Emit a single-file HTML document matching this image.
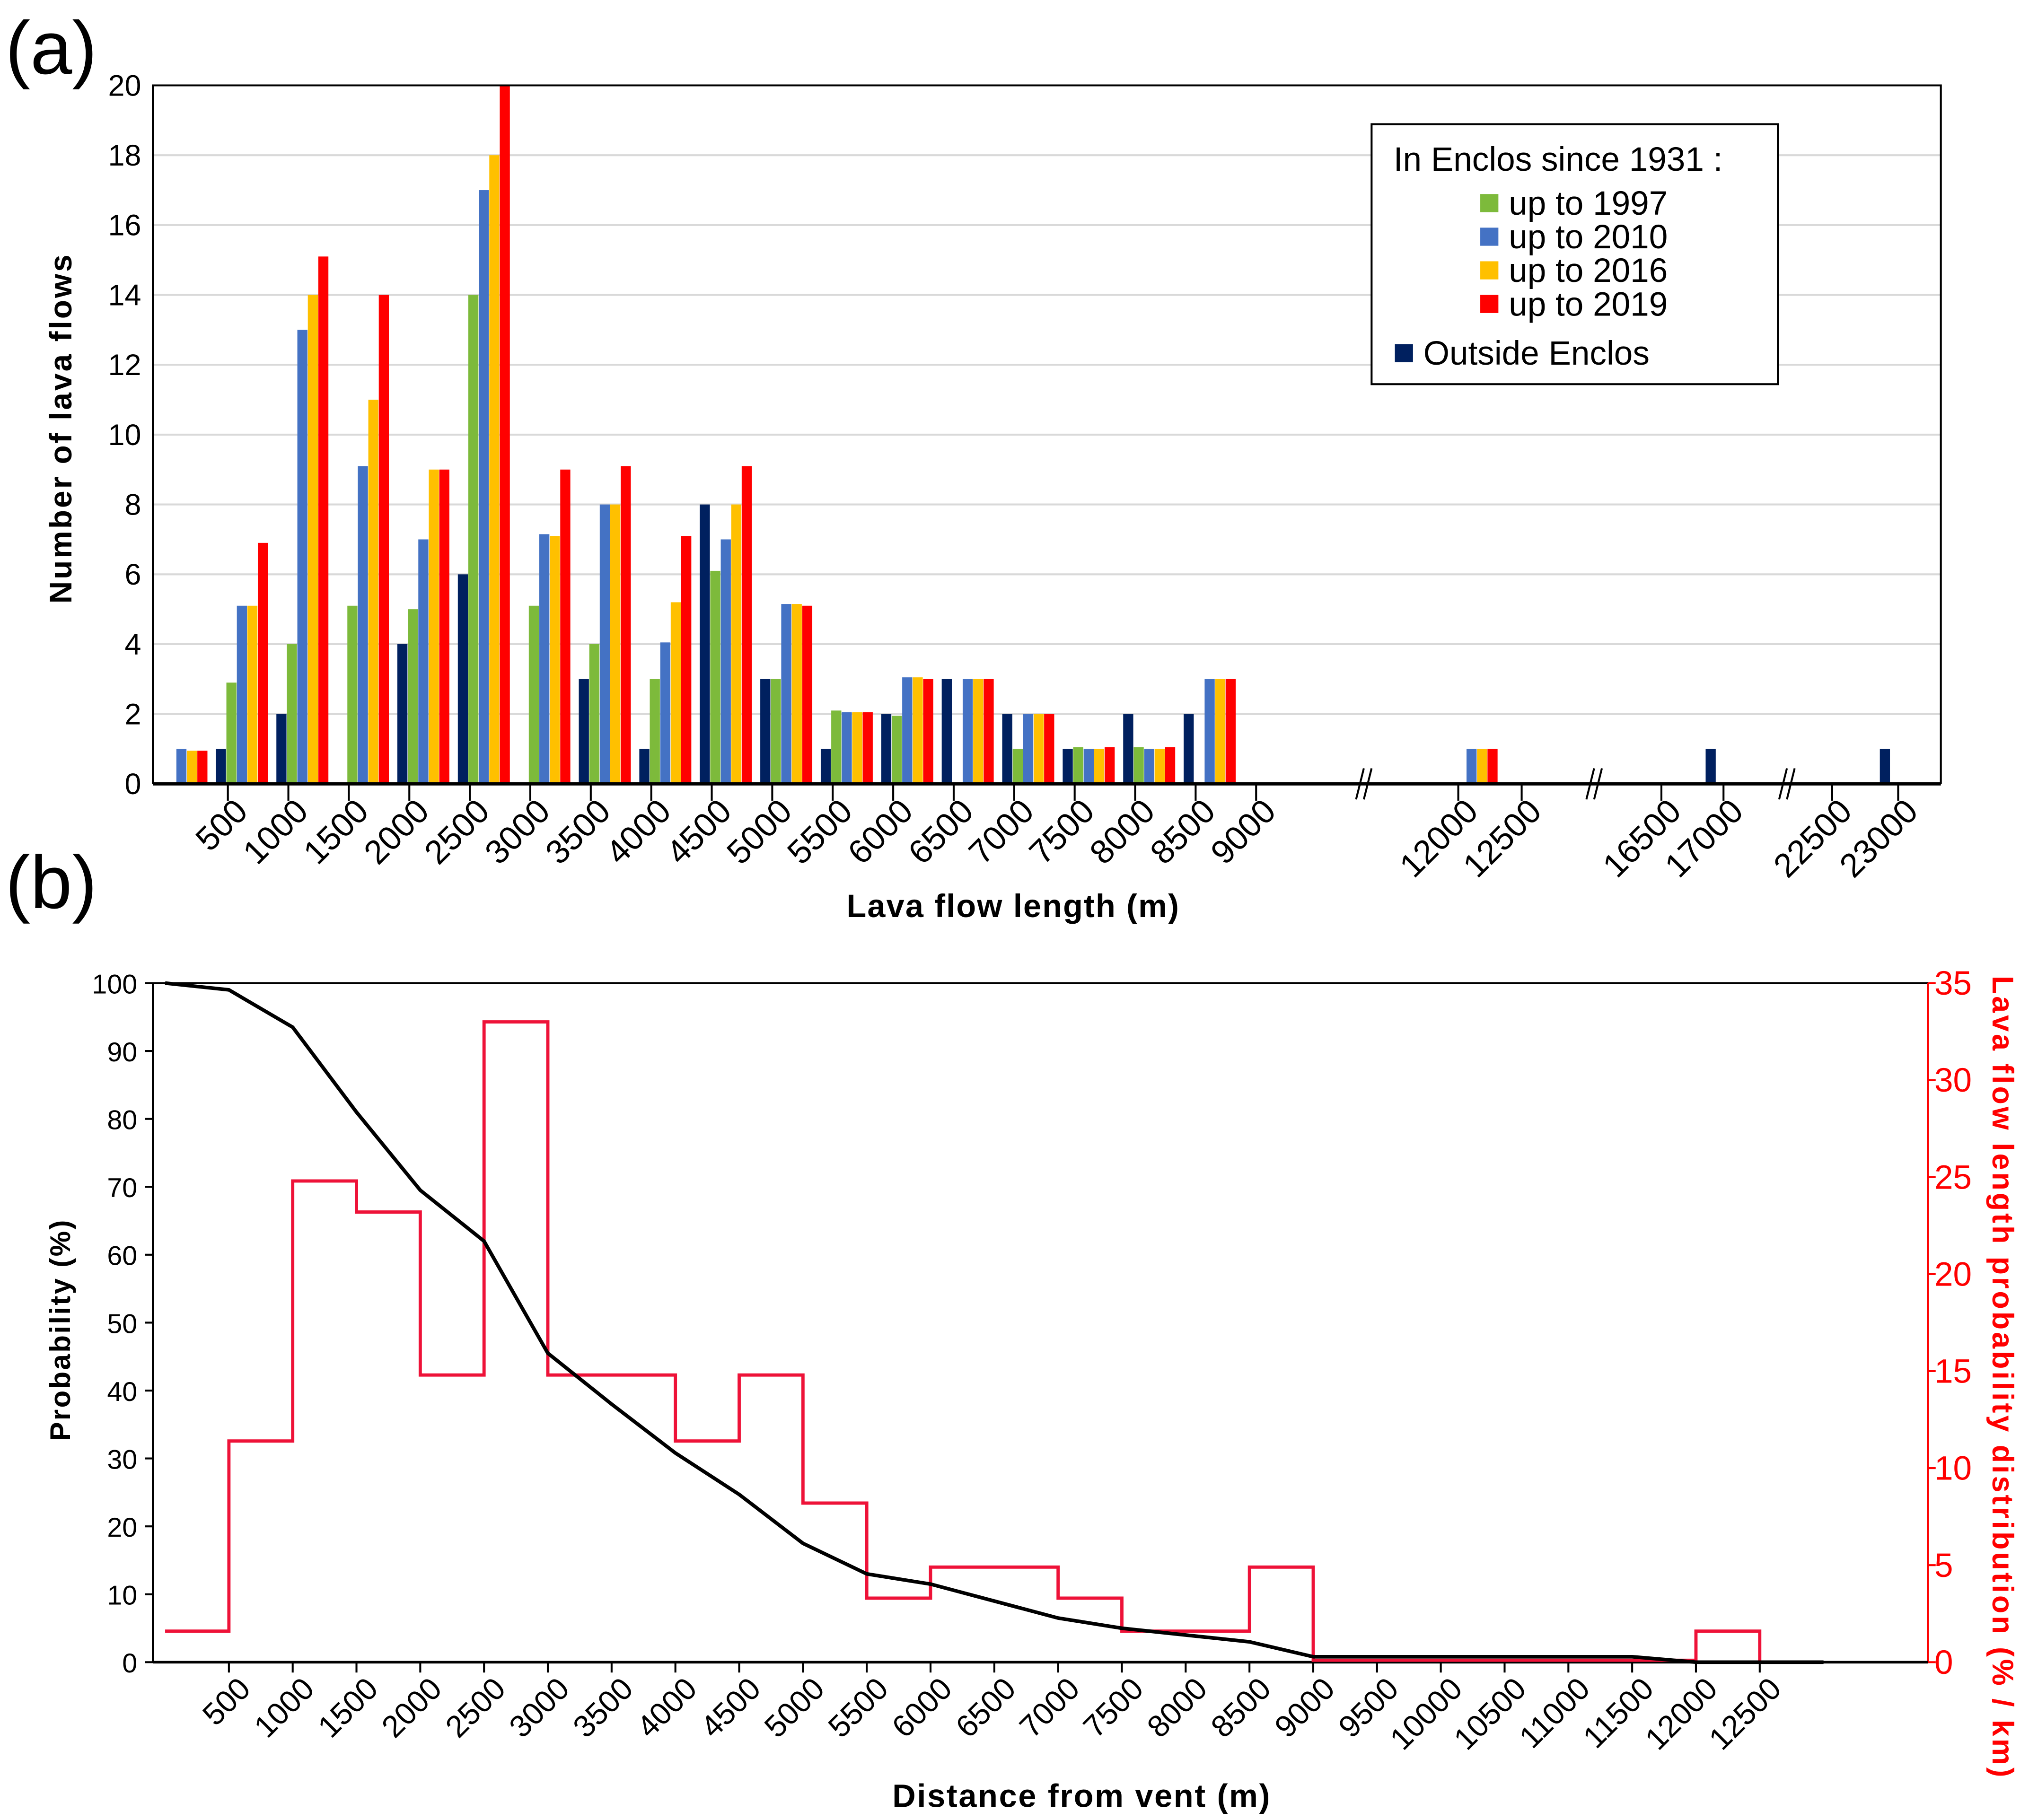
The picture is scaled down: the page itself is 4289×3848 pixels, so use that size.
<!DOCTYPE html>
<html><head><meta charset="utf-8">
<style>
html,body{margin:0;padding:0;background:#fff;}
svg{display:block;font-family:"Liberation Sans",Arial,sans-serif;}
</style></head>
<body>
<svg id="fig" xmlns="http://www.w3.org/2000/svg" width="4289" height="3848" viewBox="0 0 1568 1407">
<rect x="0" y="0" width="1568" height="1407" fill="#fff"/>
<text x="4" y="57" font-size="58">(a)</text>
<text x="4" y="702" font-size="58">(b)</text>
<g id="chartA"></g>
<g id="chartB"></g>
</svg>
<script>
// ---------- Chart A data ----------
const catLabelsA = ["500","1000","1500","2000","2500","3000","3500","4000","4500","5000","5500","6000","6500","7000","7500","8000","8500","9000"];
const extraLabelsA = ["12000","12500","16500","17000","22500","23000"];
const seriesNamesA = ["Outside Enclos","up to 1997","up to 2010","up to 2016","up to 2019"];
const outsideA = [0,1,2,0,4,6,0,3,1,8,3,1,2,3,2,1,2,2, 0,1,1];
const upTo1997 = [0,2.9,4,5.1,5,14,5.1,4,3,6.1,3,2.1,1.95,0,1,1.05,1.05,0, 0,0,0];
const upTo2010 = [1,5.1,13,9.1,7,17,7.15,8,4.05,7,5.15,2.05,3.05,3,2,1,1,3, 1,0,0];
const upTo2016 = [0.95,5.1,14,11,9,18,7.1,8,5.2,8,5.15,2.05,3.05,3,2,1,1,3, 1,0,0];
const upTo2019 = [0.95,6.9,15.1,14,9,20,9,9.1,7.1,9.1,5.1,2.05,3,3,2,1.05,1.05,3, 1,0,0];
const yTicksA = [0,2,4,6,8,10,12,14,16,18,20];

// ---------- Chart B data ----------
const distB = [0,500,1000,1500,2000,2500,3000,3500,4000,4500,5000,5500,6000,6500,7000,7500,8000,8500,9000,9500,10000,10500,11000,11500,12000,12500,13000];
const probB = [100,99,93.5,81,69.5,62,45.5,38,30.8,24.7,17.5,13,11.5,9,6.5,5,4,3,0.8,0.8,0.8,0.8,0.8,0.8,0,0,0];
const binStartB = [0,500,1000,1500,2000,2500,3000,4000,4500,5000,5500,6000,7000,7500,8500,9000,12000];
const binEndB   = [500,1000,1500,2000,2500,3000,4000,4500,5000,5500,6000,7000,7500,8500,9000,12000,12500];
const densB     = [1.6,11.4,24.8,23.2,14.8,33,14.8,11.4,14.8,8.2,3.3,4.9,3.3,1.6,4.9,0.1,1.6];
const xTickLabelsB = ["500","1000","1500","2000","2500","3000","3500","4000","4500","5000","5500","6000","6500","7000","7500","8000","8500","9000","9500","10000","10500","11000","11500","12000","12500"];
const yTicksBLeft = [0,10,20,30,40,50,60,70,80,90,100];
const yTicksBRight = [0,5,10,15,20,25,30,35];

const NS="http://www.w3.org/2000/svg";
function mk(parent,tag,attrs,text){const e=document.createElementNS(NS,tag);for(const k in attrs)e.setAttribute(k,attrs[k]);if(text!==undefined)e.textContent=text;parent.appendChild(e);return e;}

// ===== Chart A =====
(function(){
const g=document.getElementById('chartA');
const L=118,R=1500,T=66,B=606;
const yA=v=>B-(v/20)*(B-T);
const slot=46.75, barW=8.1, start0=120;
const extraSlots=[21.33,25.63,28.51];
const groupX=i=> i<18 ? start0+i*slot : start0+extraSlots[i-18]*slot;
const colors=["#00205f","#7dba3b","#4472c4","#ffc000","#ff0000"];
const series=[outsideA,upTo1997,upTo2010,upTo2016,upTo2019];
yTicksA.forEach(v=>{
  if(v>0&&v<20){const l=mk(g,'line',{x1:L,x2:R,y1:yA(v),y2:yA(v),stroke:'#d9d9d9','stroke-width':1.5});
  
  }
  const t=mk(g,'text',{x:L-9,y:yA(v)+8,'font-size':23,'text-anchor':'end'},String(v));
  
  
});
for(let i=0;i<outsideA.length;i++){
  series.forEach((s,j)=>{
    if(s[i]>0){const r=mk(g,'rect',{x:groupX(i)+j*barW,y:yA(s[i]),width:barW-0.3,height:B-yA(s[i]),fill:colors[j]});
    
    }
  });
}
const fr=mk(g,'path',{d:`M${L},${B} L${L},${T} L${R},${T} L${R},${B}`,fill:'none',stroke:'#000','stroke-width':1.5});


const xa=mk(g,'line',{x1:L,x2:R,y1:B,y2:B,stroke:'#000','stroke-width':2.5});


const tickX=[];catLabelsA.forEach((c,i)=>tickX.push(176+i*46.75));
const extraTickX=[1127,1176,1284,1332,1416,1467];
const allLabels=catLabelsA.concat(extraLabelsA), allX=tickX.concat(extraTickX);
allLabels.forEach((lab,i)=>{
  const x=allX[i];
  const tk=mk(g,'line',{x1:x,x2:x,y1:B,y2:B+13,stroke:'#000','stroke-width':1.5});
  
  
  const t=mk(g,'text',{x:x+4,y:B+10,'font-size':26,'text-anchor':'end',transform:`rotate(-45 ${x+4} ${B+10}) translate(0 18)`},lab);
  
  
});
[1054,1232,1381].forEach(x=>{
  [-3,3].forEach(d=>{const b=mk(g,'line',{x1:x+d-3,y1:B+12,x2:x+d+3,y2:B-12,stroke:'#000','stroke-width':1.5});
  
  });
});
const yt=mk(g,'text',{x:0,y:0,'font-size':24,'font-weight':'bold','text-anchor':'middle',transform:'translate(55 331) rotate(-90)','letter-spacing':'1.5'},'Number of lava flows');


const xt=mk(g,'text',{x:783,y:709,'font-size':25,'font-weight':'bold','text-anchor':'middle','letter-spacing':'0.8'},'Lava flow length (m)');


const lg=mk(g,'g',{});


mk(lg,'rect',{x:1060,y:96,width:314,height:201,fill:'#fff',stroke:'#000','stroke-width':1.5});
mk(lg,'text',{x:1077,y:132,'font-size':26},'In Enclos since 1931 :');
[1,2,3,4].forEach((j,k)=>{
  const ey=157+k*26;
  const it=mk(lg,'g',{});
  
  
  mk(it,'rect',{x:1144,y:ey-7,width:14,height:14,fill:colors[j]});
  mk(it,'text',{x:1166,y:ey+9,'font-size':26},seriesNamesA[j]);
});
const it=mk(lg,'g',{});


mk(it,'rect',{x:1078,y:266,width:14,height:14,fill:colors[0]});
mk(it,'text',{x:1100,y:282,'font-size':26},'Outside Enclos');
})();

// ===== Chart B =====
(function(){
const g=document.getElementById('chartB');
const L=118,R=1490,T=760,B=1285;
const xB=d=>127.5+d/500*49.3;
const yL=v=>B-(v/100)*(B-T);
const yR=v=>B-(v/35)*(B-T);
const fr=mk(g,'path',{d:`M${L},${B} L${L},${T} L${R},${T} L${R},${B}`,fill:'none',stroke:'#000','stroke-width':1.5});


const ra=mk(g,'line',{x1:R,x2:R,y1:T,y2:B,stroke:'#ff0000','stroke-width':1.5});


const xa=mk(g,'line',{x1:L,x2:R,y1:B,y2:B,stroke:'#000','stroke-width':2});


yTicksBLeft.forEach(v=>{
  const tk=mk(g,'line',{x1:L-6,x2:L,y1:yL(v),y2:yL(v),stroke:'#000','stroke-width':1.5});
  
  
  const t=mk(g,'text',{x:L-12,y:yL(v)+8,'font-size':21,'text-anchor':'end'},String(v));
  
  
});
yTicksBRight.forEach(v=>{
  const tk=mk(g,'line',{x1:R,x2:R+6,y1:yR(v),y2:yR(v),stroke:'#ff0000','stroke-width':1.5});
  
  
  const t=mk(g,'text',{x:R+5,y:yR(v)+9,'font-size':26,fill:'#ff0000'},String(v));
  
  
});
xTickLabelsB.forEach((lab,i)=>{
  const x=xB((i+1)*500);
  const tk=mk(g,'line',{x1:x,x2:x,y1:B,y2:B+8,stroke:'#000','stroke-width':1.5});
  
  
  const t=mk(g,'text',{x:x+6,y:B+10,'font-size':24,'text-anchor':'end',transform:`rotate(-45 ${x+6} ${B+10}) translate(0 17)`},lab);
  
  
});
let d='';
binStartB.forEach((s,i)=>{
  const y=yR(densB[i]);
  d+=(i===0?`M${xB(s)},${y}`:` L${xB(s)},${y}`)+` L${xB(binEndB[i])},${y}`;
});
d+=` L${xB(binEndB[binEndB.length-1])},${B}`;
const st=mk(g,'path',{d:d,fill:'none',stroke:'#ee1238','stroke-width':2.5});


const pts=distB.map((x,i)=>`${xB(x)},${yL(probB[i])}`).join(' ');
const pl=mk(g,'polyline',{points:pts,fill:'none',stroke:'#000','stroke-width':2.8});


const yt=mk(g,'text',{x:0,y:0,'font-size':22,'font-weight':'bold','text-anchor':'middle',transform:'translate(54 1028) rotate(-90)','letter-spacing':'1.2'},'Probability (%)');


const yt2=mk(g,'text',{x:0,y:0,'font-size':23,'font-weight':'bold','text-anchor':'middle',fill:'#ff0000',transform:'translate(1540 1065) rotate(90)','letter-spacing':'1.8'},'Lava flow length probability distribution (% / km)');


const xt=mk(g,'text',{x:836,y:1397,'font-size':25,'font-weight':'bold','text-anchor':'middle','letter-spacing':'1'},'Distance from vent (m)');


})();
</script>
</body></html>
